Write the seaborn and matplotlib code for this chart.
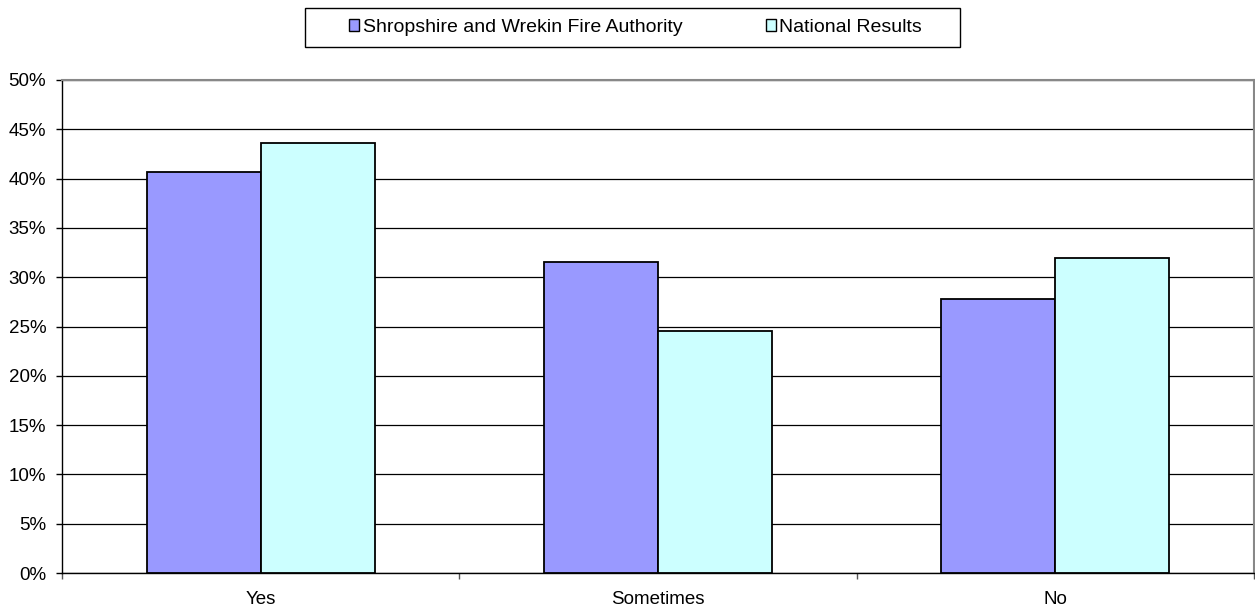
import matplotlib
matplotlib.use("Agg")
import matplotlib.pyplot as plt
import matplotlib.patches as mpatches
from matplotlib.ticker import FixedLocator, PercentFormatter
import seaborn as sns
import pandas as pd

categories = ["Yes", "Sometimes", "No"]
series_names = ["Shropshire and Wrekin Fire Authority", "National Results"]
shropshire = [40.7, 31.5, 27.8]
national = [43.6, 24.5, 31.9]
colors = ["#9999FF", "#CCFFFF"]

df = pd.DataFrame({
    "Response": categories * 2,
    "Group": [series_names[0]] * 3 + [series_names[1]] * 3,
    "Percent": shropshire + national,
})

sns.set_theme(style="white")
plt.rcParams["font.family"] = ["Liberation Sans", "DejaVu Sans"]
plt.rcParams["text.color"] = "black"

fig = plt.figure(figsize=(12.55, 6.09), dpi=100)
ax = fig.add_axes([62 / 1255, 1 - 573 / 609, (1254 - 62) / 1255, (573 - 80) / 609])

sns.barplot(data=df, x="Response", y="Percent", hue="Group", order=categories,
            hue_order=series_names, palette=colors, width=0.574,
            edgecolor="black", linewidth=1.3, saturation=1, ax=ax, legend=False,
            zorder=3)

ax.set_xlim(-0.5, 2.5)
ax.set_ylim(0, 50)
ax.set_yticks(range(0, 51, 5))
ax.yaxis.set_major_formatter(PercentFormatter(decimals=0))
ax.grid(axis="y", color="black", linewidth=0.9, zorder=0)
ax.set_axisbelow(True)
ax.set_xlabel("")
ax.set_ylabel("")

ax.tick_params(axis="y", which="major", direction="out", length=4.3, width=1,
               color="black", pad=7, labelsize=13.5, labelcolor="black", left=True)
ax.tick_params(axis="x", which="major", length=0, pad=13, labelsize=13.5,
               labelcolor="black")
ax.xaxis.set_minor_locator(FixedLocator([-0.5, 0.5, 1.5, 2.5]))
ax.tick_params(axis="x", which="minor", direction="out", length=4, width=1,
               color="#555555", bottom=True)

for side in ["left", "bottom"]:
    ax.spines[side].set_color("black")
    ax.spines[side].set_linewidth(1)
for side in ["top", "right"]:
    ax.spines[side].set_color("#888888")
    ax.spines[side].set_linewidth(1.5)

# Legend above the plot, boxed
handles = [mpatches.Patch(facecolor=c, edgecolor="black", linewidth=1) for c in colors]
fig.legend(handles, series_names, loc="center left",
           bbox_to_anchor=(349 / 1255, 1 - 27.5 / 609), ncol=2, frameon=False,
           fontsize=14, labelcolor="black", handlelength=0.52, handleheight=0.52,
           handletextpad=0.18, columnspacing=4.3, borderpad=0.0, borderaxespad=0)
fig.patches.append(mpatches.Rectangle((305 / 1255, 1 - 47 / 609), (960 - 305) / 1255,
                                      39 / 609, transform=fig.transFigure,
                                      facecolor="none", edgecolor="black",
                                      linewidth=1))

fig.savefig("out.png", dpi=100)
